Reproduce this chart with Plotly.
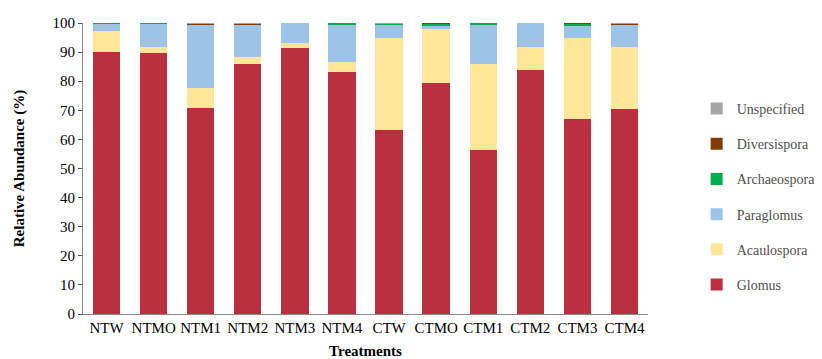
import plotly.graph_objects as go

treatments = ["NTW", "NTMO", "NTM1", "NTM2", "NTM3", "NTM4",
              "CTW", "CTMO", "CTM1", "CTM2", "CTM3", "CTM4"]
glomus       = [90.0, 89.7, 70.7, 86.0, 91.3, 83.2, 63.3, 79.5, 56.4, 83.8, 67.0, 70.3]
acaulospora  = [7.2, 2.1, 7.1, 2.2, 2.0, 3.5, 31.7, 18.4, 29.5, 8.0, 27.7, 21.5]
paraglomus   = [2.6, 8.0, 21.8, 11.4, 6.7, 12.6, 4.5, 1.3, 13.4, 8.2, 4.6, 7.8]
archaeospora = [0.2, 0.2, 0.0, 0.0, 0.0, 0.7, 0.2, 0.5, 0.7, 0.0, 0.5, 0.0]
diversispora = [0.0, 0.0, 0.2, 0.2, 0.0, 0.0, 0.2, 0.3, 0.0, 0.0, 0.2, 0.2]
unspecified  = [0.0, 0.0, 0.2, 0.2, 0.0, 0.0, 0.1, 0.0, 0.0, 0.0, 0.0, 0.2]

series = [
    ("Glomus", glomus, "#BA3040"),
    ("Acaulospora", acaulospora, "#FFE699"),
    ("Paraglomus", paraglomus, "#9DC3E6"),
    ("Archaeospora", archaeospora, "#00B050"),
    ("Diversispora", diversispora, "#843C0C"),
    ("Unspecified", unspecified, "#A5A5A5"),
]

font = "Liberation Serif, Times New Roman, serif"
fig = go.Figure()
for i, (name, vals, col) in enumerate(series):
    fig.add_trace(go.Bar(x=treatments, y=vals, name=name, legendgroup=name,
                         legendrank=1000 - i,
                         marker=dict(color=col, line=dict(width=0))))

fig.update_layout(
    barmode="stack", bargap=0.42,
    width=814, height=351,
    margin=dict(l=75, r=174, t=15, b=45, autoexpand=False),
    plot_bgcolor="white", paper_bgcolor="white",
    font=dict(family=font, size=15, color="black"),
    legend=dict(traceorder="grouped", tracegroupgap=14, xref="container", x=0.846,
                xanchor="left", yref="container", y=0.758, yanchor="top",
                maxheight=340,
                font=dict(size=14, color="#505050"), itemwidth=30),
    xaxis=dict(showline=True, linecolor="#888888", linewidth=1, ticks="",
               automargin=False,
               title=dict(text="<b>Treatments</b>", standoff=12, font=dict(size=15)),
               tickfont=dict(size=15)),
    yaxis=dict(range=[0, 100], dtick=10, showgrid=False, showline=True,
               automargin=False,
               linecolor="#888888", linewidth=1, ticks="outside", ticklen=4,
               tickcolor="#555555", zeroline=False,
               title=dict(text="<b>Relative Abundance (%)</b>", standoff=24, font=dict(size=15)),
               tickfont=dict(size=15)),
)
fig.write_html("out.html")
